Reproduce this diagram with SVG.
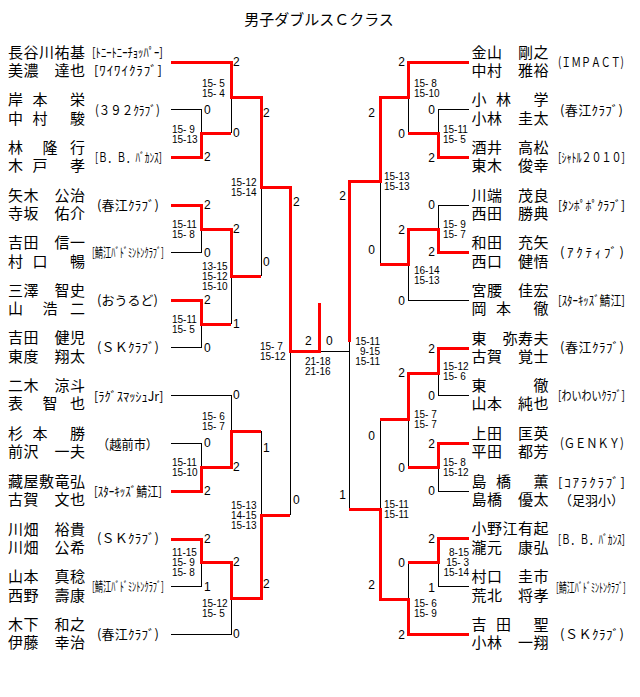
<svg xmlns="http://www.w3.org/2000/svg" width="640" height="697" viewBox="0 0 640 697">
<style>
.t{font-family:"Noto Sans CJK JP","Noto Sans CJK SC",sans-serif;font-size:15px;fill:#000}
.nm{font-family:"Liberation Sans","Noto Sans CJK JP","Noto Sans CJK SC",sans-serif;font-size:15px;text-anchor:middle;fill:#000}
.cl{font-family:"Noto Sans CJK JP","Noto Sans CJK SC",sans-serif;font-size:13px;fill:#000}
.sc{font-family:"Liberation Sans",Arial,sans-serif;font-size:10px;fill:#000}
.rs{font-family:"Liberation Sans",Arial,sans-serif;font-size:12px;fill:#000}
.re{font-family:"Liberation Sans",Arial,sans-serif;font-size:12px;fill:#000;text-anchor:end}
.bk{stroke:#000;stroke-width:1;fill:none;shape-rendering:crispEdges}
.rd{stroke:#f00;stroke-width:3;fill:none;stroke-linejoin:miter;shape-rendering:crispEdges}
</style>
<rect width="640" height="697" fill="#fff"/>
<g id="title"><text class="t" x="319" y="24.5" text-anchor="middle">男子ダブルスＣクラス</text></g>

<g id="connectors">
<path class="bk" d="M171 109.5H201V133M231 97V133M171 252.5H201V229M171 347.5H201V324M231 276V324M261 187V276M171 395H231V431M171 443H201V467M171 586.5H201V562M171 634H231V598M261 431V515M290 351V515M319 351H349"/>
<path class="bk" d="M469 109.5H438V133M408 97V133M380 181V264M469 205H438V229M469 300H408V264M349 181V509M469 395H438V373M469 491H438V467M408 419V467M469 586.5H438V562M408 562V599M380 419V509"/>
<path class="rd" d="M171 62H231V97H261V187H290V351H319V303"/>
<path class="rd" d="M171 157H201V133H231"/>
<path class="rd" d="M171 205H201V229H231V276H261"/>
<path class="rd" d="M171 300H201V324H231"/>
<path class="rd" d="M171 491H201V467H231V431H261"/>
<path class="rd" d="M171 539H201V562H231V598H261V515H290"/>
<path class="rd" d="M469 62H408V97H380V181H349V342"/>
<path class="rd" d="M469 157H438V133H408"/>
<path class="rd" d="M469 252.5H438V229H408V264H380"/>
<path class="rd" d="M469 348H438V373H408V419H380"/>
<path class="rd" d="M469 443H438V467H408"/>
<path class="rd" d="M469 538.5H438V562H408"/>
<path class="rd" d="M469 634H408V599H380V509H349"/>
</g>

<g id="L1"><text class="nm"><tspan x="15.5 31 46.5 62 77.5" y="57.7">長谷川祐基</tspan><tspan x="15.5 31 62 77.5" y="76.2">美濃達也</tspan></text><text class="cl" transform="translate(92 56.9) scale(0.818 1)">[ﾄﾆｰﾄﾆｰﾁｮｯﾊﾟｰ]</text><text class="cl" x="94" y="74.9" textLength="68">[ﾜｲﾜｲｸﾗﾌﾞ]</text></g>
<g id="L2"><text class="nm"><tspan x="15.5 40 77.5" y="105.2">岸本栄</tspan><tspan x="15.5 40 77.5" y="123.7">中村駿</tspan></text><text class="cl" transform="translate(95 114.9) scale(0.88 1)">(３９２ｸﾗﾌﾞ)</text></g>
<g id="L3"><text class="nm"><tspan x="15.5 50 77.5" y="152.7">林隆行</tspan><tspan x="15.5 40 77.5" y="171.2">木戸孝</tspan></text><text class="cl" transform="translate(95 161.9) scale(0.718 1)">[Ｂ．Ｂ．ﾊﾞｶﾝｽ]</text></g>
<g id="L4"><text class="nm"><tspan x="15.5 31 62 77.5" y="200.7">矢木公治</tspan><tspan x="15.5 31 62 77.5" y="219.2">寺坂佑介</tspan></text><text class="cl" x="97" y="209.9" textLength="62">(春江ｸﾗﾌﾞ)</text></g>
<g id="L5"><text class="nm"><tspan x="15.5 31 62 77.5" y="248.2">吉田信一</tspan><tspan x="15.5 40 77.5" y="266.7">村口暢</tspan></text><text class="cl" transform="translate(92 256.9) scale(0.638 1)">[鯖江ﾊﾞﾄﾞﾐﾝﾄﾝｸﾗﾌﾞ]</text></g>
<g id="L6"><text class="nm"><tspan x="15.5 31 62 77.5" y="295.7">三澤智史</tspan><tspan x="15.5 50 77.5" y="314.2">山浩二</tspan></text><text class="cl" x="97" y="304.9" textLength="61">(おうるど)</text></g>
<g id="L7"><text class="nm"><tspan x="15.5 31 62 77.5" y="343.2">吉田健児</tspan><tspan x="15.5 31 62 77.5" y="361.7">東度翔太</tspan></text><text class="cl" x="97" y="352" textLength="62">(ＳＫｸﾗﾌﾞ)</text></g>
<g id="L8"><text class="nm"><tspan x="15.5 31 62 77.5" y="390.7">二木涼斗</tspan><tspan x="15.5 50 77.5" y="409.2">表智也</tspan></text><text class="cl" transform="translate(94 400.5) scale(0.954 1)">[ﾗｸﾞｽﾏｯｼｭJr]</text></g>
<g id="L9"><text class="nm"><tspan x="15.5 40 77.5" y="438.7">杉本勝</tspan><tspan x="15.5 31 62 77.5" y="457.2">前沢一夫</tspan></text><text class="cl" transform="translate(97 448.5) scale(0.94 1)">（越前市）</text></g>
<g id="L10"><text class="nm"><tspan x="15.5 31 46.5 62 77.5" y="486.7">藏屋敷竜弘</tspan><tspan x="15.5 31 62 77.5" y="505.2">古賀文也</tspan></text><text class="cl" transform="translate(94 495.9) scale(0.847 1)">[ｽﾀｰｷｯｽﾞ鯖江]</text></g>
<g id="L11"><text class="nm"><tspan x="15.5 31 62 77.5" y="534.7">川畑裕貴</tspan><tspan x="15.5 31 62 77.5" y="553.2">川畑公希</tspan></text><text class="cl" x="97" y="543" textLength="62">(ＳＫｸﾗﾌﾞ)</text></g>
<g id="L12"><text class="nm"><tspan x="15.5 31 62 77.5" y="582.2">山本真稔</tspan><tspan x="15.5 31 62 77.5" y="600.7">西野壽康</tspan></text><text class="cl" transform="translate(92 591) scale(0.638 1)">[鯖江ﾊﾞﾄﾞﾐﾝﾄﾝｸﾗﾌﾞ]</text></g>
<g id="L13"><text class="nm"><tspan x="15.5 31 62 77.5" y="629.7">木下和之</tspan><tspan x="15.5 31 62 77.5" y="648.2">伊藤幸治</tspan></text><text class="cl" x="97" y="639" textLength="62">(春江ｸﾗﾌﾞ)</text></g>

<g id="R1"><text class="nm"><tspan x="479 494.5 525.5 541" y="57.7">金山剛之</tspan><tspan x="479 494.5 525.5 541" y="76.2">中村雅裕</tspan></text><text class="cl" transform="translate(558 66.9) scale(0.76 1)">(ＩＭＰＡＣＴ)</text></g>
<g id="R2"><text class="nm"><tspan x="479 503.5 541" y="105.2">小林学</tspan><tspan x="479 494.5 525.5 541" y="123.7">小林圭太</tspan></text><text class="cl" x="560" y="114.9" textLength="63">(春江ｸﾗﾌﾞ)</text></g>
<g id="R3"><text class="nm"><tspan x="479 494.5 525.5 541" y="152.7">酒井高松</tspan><tspan x="479 494.5 525.5 541" y="171.2">東木俊幸</tspan></text><text class="cl" transform="translate(558 161.9) scale(0.772 1)">[ｼｬﾄﾙ２０１０]</text></g>
<g id="R4"><text class="nm"><tspan x="479 494.5 525.5 541" y="200.7">川端茂良</tspan><tspan x="479 494.5 525.5 541" y="219.2">西田勝典</tspan></text><text class="cl" transform="translate(558 209.9) scale(0.908 1)">[ﾀﾝﾎﾟﾎﾟｸﾗﾌﾞ]</text></g>
<g id="R5"><text class="nm"><tspan x="479 494.5 525.5 541" y="248.2">和田充矢</tspan><tspan x="479 494.5 525.5 541" y="266.7">西口健悟</tspan></text><text class="cl" x="560" y="257" textLength="64">(ｱｸﾃｨﾌﾞ)</text></g>
<g id="R6"><text class="nm"><tspan x="479 494.5 525.5 541" y="295.7">宮腰佳宏</tspan><tspan x="479 503.5 541" y="314.2">岡本徹</tspan></text><text class="cl" transform="translate(558 304.9) scale(0.834 1)">[ｽﾀｰｷｯｽﾞ鯖江]</text></g>
<g id="R7"><text class="nm"><tspan x="479 510 525.5 541" y="343.7">東弥寿夫</tspan><tspan x="479 494.5 525.5 541" y="362.2">古賀覚士</tspan></text><text class="cl" x="560" y="352" textLength="64">(春江ｸﾗﾌﾞ)</text></g>
<g id="R8"><text class="nm"><tspan x="479 541" y="390.7">東徹</tspan><tspan x="479 494.5 525.5 541" y="409.2">山本純也</tspan></text><text class="cl" transform="translate(558 400) scale(0.772 1)">[わいわいｸﾗﾌﾞ]</text></g>
<g id="R9"><text class="nm"><tspan x="479 494.5 525.5 541" y="438.7">上田匡英</tspan><tspan x="479 494.5 525.5 541" y="457.2">平田都芳</tspan></text><text class="cl" transform="translate(560 448) scale(0.867 1)">(ＧＥＮＫＹ)</text></g>
<g id="R10"><text class="nm"><tspan x="479 503.5 541" y="486.7">島橋薫</tspan><tspan x="479 494.5 525.5 541" y="505.2">島橋優太</tspan></text><text class="cl" x="558" y="486.9" textLength="67">[ｺｱﾗｸﾗﾌﾞ]</text><text class="cl" x="559" y="504.9">（足羽小）</text></g>
<g id="R11"><text class="nm"><tspan x="479 494.5 510 525.5 541" y="534.2">小野江有起</tspan><tspan x="479 494.5 525.5 541" y="552.7">瀧元康弘</tspan></text><text class="cl" transform="translate(558 544) scale(0.718 1)">[Ｂ．Ｂ．ﾊﾞｶﾝｽ]</text></g>
<g id="R12"><text class="nm"><tspan x="479 494.5 525.5 541" y="582.2">村口圭市</tspan><tspan x="479 494.5 525.5 541" y="600.7">荒北将孝</tspan></text><text class="cl" transform="translate(556 591.5) scale(0.62 1)">[鯖江ﾊﾞﾄﾞﾐﾝﾄﾝｸﾗﾌﾞ]</text></g>
<g id="R13"><text class="nm"><tspan x="479 503.5 541" y="629.7">吉田聖</tspan><tspan x="479 494.5 525.5 541" y="648.2">小林一翔</tspan></text><text class="cl" x="560" y="639" textLength="64">(ＳＫｸﾗﾌﾞ)</text></g>

<g id="results">
<text class="rs" x="204" y="113.8">0</text><text class="rs" x="204" y="161.3">2</text>
<text class="rs" x="233" y="66.3">2</text><text class="rs" x="233" y="137.3">0</text>
<text class="rs" x="204" y="209.3">2</text><text class="rs" x="204" y="256.8">0</text>
<text class="rs" x="204" y="304.3">2</text><text class="rs" x="204" y="351.8">0</text>
<text class="rs" x="233" y="233.3">2</text><text class="rs" x="233" y="328.3">1</text>
<text class="rs" x="263" y="117.3">2</text><text class="rs" x="263" y="266.3">0</text>
<text class="rs" x="204" y="447.3">0</text><text class="rs" x="204" y="495">2</text>
<text class="rs" x="233" y="399.3">0</text><text class="rs" x="233" y="471.3">2</text>
<text class="rs" x="204" y="543.3">2</text><text class="rs" x="204" y="590.8">1</text>
<text class="rs" x="233" y="566.3">2</text><text class="rs" x="233" y="638.3">0</text>
<text class="rs" x="263" y="451.8">1</text><text class="rs" x="263" y="588.3">2</text>
<text class="rs" x="293" y="206">2</text><text class="rs" x="293" y="504.3">0</text>
<text class="rs" x="305" y="345.3">2</text><text class="rs" x="326" y="345.3">0</text>
<text class="re" x="405" y="66.3">2</text><text class="re" x="405" y="138.3">0</text>
<text class="re" x="435" y="113.8">0</text><text class="re" x="435" y="161.8">2</text>
<text class="re" x="375" y="116.8">2</text><text class="re" x="375" y="253.8">0</text>
<text class="re" x="435" y="209.3">0</text><text class="re" x="435" y="256.3">2</text>
<text class="re" x="405" y="233.8">2</text><text class="re" x="405" y="304.8">0</text>
<text class="re" x="346" y="200.3">2</text><text class="re" x="346" y="498.8">1</text>
<text class="re" x="435" y="352.8">2</text><text class="re" x="435" y="399.8">0</text>
<text class="re" x="405" y="376.8">2</text><text class="re" x="405" y="471.8">0</text>
<text class="re" x="435" y="447.8">2</text><text class="re" x="435" y="495.3">0</text>
<text class="re" x="375" y="440.3">0</text><text class="re" x="375" y="588.8">2</text>
<text class="re" x="435" y="543.3">2</text><text class="re" x="435" y="591.8">1</text>
<text class="re" x="405" y="566.8">0</text><text class="re" x="405" y="638.8">2</text>
</g>

<g id="scores">
<text class="sc"><tspan x="202" y="86.9">15- 5</tspan><tspan x="202" y="96.9">15- 4</tspan></text>
<text class="sc"><tspan x="172" y="132.6">15- 9</tspan><tspan x="172" y="142.6">15-13</tspan></text>
<text class="sc"><tspan x="231" y="186.3">15-12</tspan><tspan x="231" y="196.3">15-14</tspan></text>
<text class="sc"><tspan x="172" y="227.9">15-11</tspan><tspan x="172" y="237.9">15- 8</tspan></text>
<text class="sc"><tspan x="202" y="270.3">13-15</tspan><tspan x="202" y="280.3">15-12</tspan><tspan x="202" y="290.3">15-10</tspan></text>
<text class="sc"><tspan x="172" y="322.9">15-11</tspan><tspan x="172" y="332.9">15- 5</tspan></text>
<text class="sc"><tspan x="260" y="349.6">15- 7</tspan><tspan x="260" y="359.6">15-12</tspan></text>
<text class="sc"><tspan x="305" y="364.6">21-18</tspan><tspan x="305" y="374.6">21-16</tspan></text>
<text class="sc"><tspan x="202" y="419.6">15- 6</tspan><tspan x="202" y="429.6">15- 7</tspan></text>
<text class="sc"><tspan x="172" y="466.3">15-11</tspan><tspan x="172" y="476.3">15-10</tspan></text>
<text class="sc"><tspan x="231" y="508.6">15-13</tspan><tspan x="231" y="518.6">14-15</tspan><tspan x="231" y="528.6">15-13</tspan></text>
<text class="sc"><tspan x="172" y="556.3">11-15</tspan><tspan x="172" y="566.3">15- 9</tspan><tspan x="172" y="576.3">15- 8</tspan></text>
<text class="sc"><tspan x="202" y="606.9">15-12</tspan><tspan x="202" y="616.9">15- 5</tspan></text>
<text class="sc"><tspan x="414" y="86.9">15- 8</tspan><tspan x="414" y="96.9">15-10</tspan></text>
<text class="sc"><tspan x="443" y="132.6">15-11</tspan><tspan x="443" y="142.6">15- 5</tspan></text>
<text class="sc"><tspan x="384" y="180.3">15-13</tspan><tspan x="384" y="190.3">15-13</tspan></text>
<text class="sc"><tspan x="443" y="227.9">15- 9</tspan><tspan x="443" y="237.9">15- 7</tspan></text>
<text class="sc"><tspan x="414" y="273.6">16-14</tspan><tspan x="414" y="283.6">15-13</tspan></text>
<text class="sc" text-anchor="end"><tspan x="380" y="345.3">15-11</tspan><tspan x="380" y="355.3">9-15</tspan><tspan x="380" y="365.3">15-11</tspan></text>
<text class="sc"><tspan x="443" y="370.3">15-12</tspan><tspan x="443" y="380.3">15- 6</tspan></text>
<text class="sc"><tspan x="414" y="417.6">15- 7</tspan><tspan x="414" y="427.6">15- 7</tspan></text>
<text class="sc"><tspan x="443" y="466.3">15- 8</tspan><tspan x="443" y="476.3">15-12</tspan></text>
<text class="sc"><tspan x="384" y="507.6">15-11</tspan><tspan x="384" y="517.6">15-11</tspan></text>
<text class="sc" text-anchor="end"><tspan x="469" y="556.3">8-15</tspan><tspan x="469" y="566.3">15- 3</tspan><tspan x="469" y="576.3">15-14</tspan></text>
<text class="sc"><tspan x="414" y="606.9">15- 6</tspan><tspan x="414" y="616.9">15- 9</tspan></text>
</g>
</svg>
